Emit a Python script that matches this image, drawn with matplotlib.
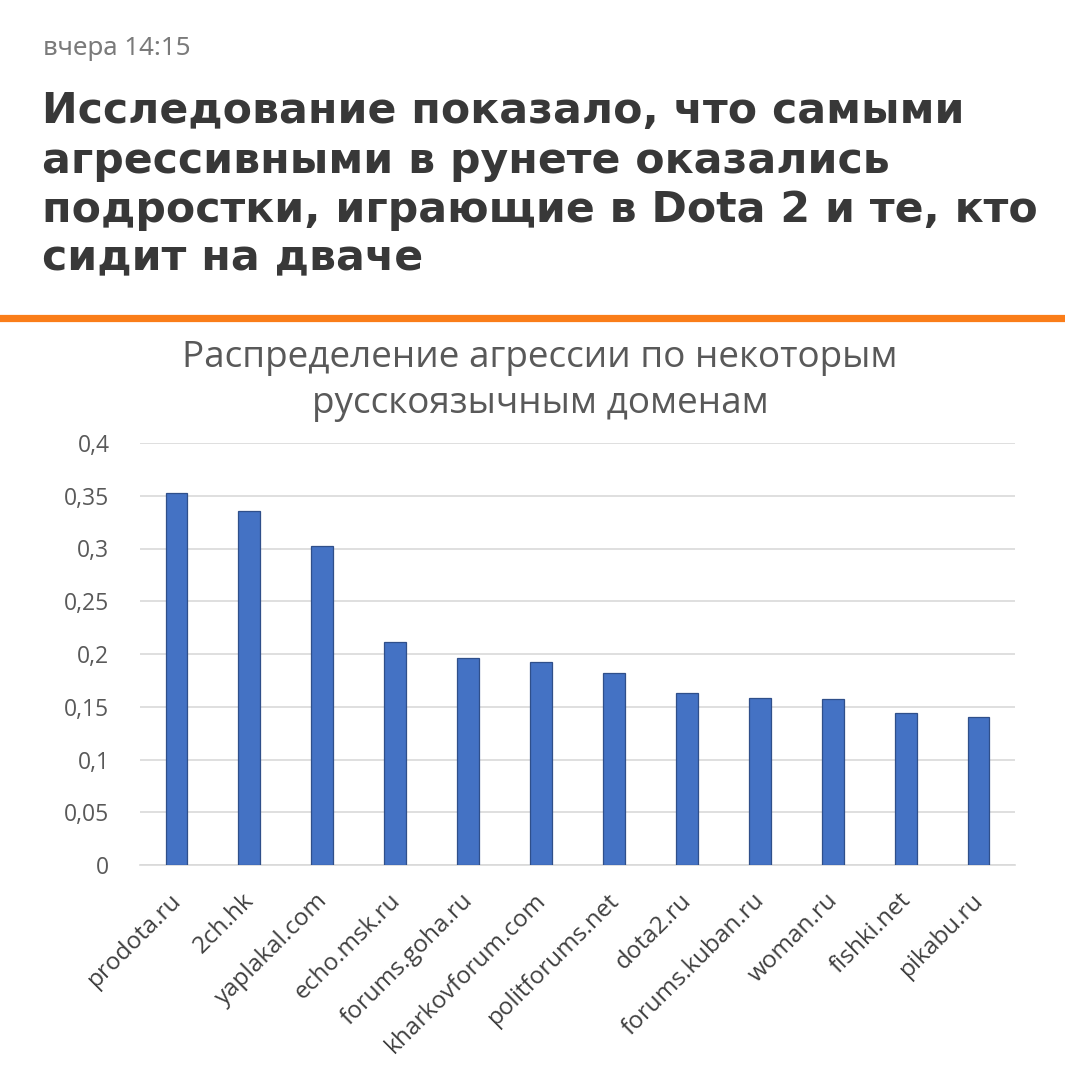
import matplotlib
matplotlib.use("Agg")
import matplotlib.pyplot as plt
from matplotlib.ticker import FixedLocator, FixedFormatter
from matplotlib.transforms import ScaledTranslation

# ---- data ----
domains = ["prodota.ru", "2ch.hk", "yaplakal.com", "echo.msk.ru", "forums.goha.ru",
           "kharkovforum.com", "politforums.net", "dota2.ru", "forums.kuban.ru",
           "woman.ru", "fishki.net", "pikabu.ru"]
aggression = [0.353, 0.3355, 0.302, 0.211, 0.196, 0.192, 0.182, 0.163, 0.1586, 0.157, 0.1444, 0.140]
y_ticks = [0, 0.05, 0.1, 0.15, 0.2, 0.25, 0.3, 0.35, 0.4]
y_tick_labels = ["0", "0,05", "0,1", "0,15", "0,2", "0,25", "0,3", "0,35", "0,4"]

date_text = "вчера 14:15"
headline = ["Исследование показало, что самыми",
            "агрессивными в рунете оказались",
            "подростки, играющие в Dota 2 и те, кто",
            "сидит на дваче"]
chart_title = ["Распределение агрессии по некоторым", "русскоязычным доменам"]

W, H = 1065, 1067
fig = plt.figure(figsize=(W / 100, H / 100), dpi=100)
fig.patch.set_facecolor("white")
renderer = fig.canvas.get_renderer()


def px(x, y):
    return x / W, 1 - y / H


def fit_text(x, y, s, target_w, **kw):
    t = fig.text(*px(x, y), s, fontsize=10, **kw)
    w = t.get_window_extent(renderer).width
    t.set_fontsize(10 * target_w / w)
    return t


def fit_size(s, target_w, **kw):
    t = fig.text(0, 0, s, fontsize=10, **kw)
    w = t.get_window_extent(renderer).width
    t.remove()
    return 10 * target_w / w


# ---- header ----
fit_text(43, 55, date_text, 147, color="#7a7a7a", va="baseline", ha="left",
         family=["Noto Sans", "DejaVu Sans"])

hfam = ["DejaVu Sans"]
hsize = fit_size(headline[2], 995, family=hfam, fontweight="bold")
for s, yb in zip(headline, [123.3, 172.5, 221.7, 270.5]):
    fig.text(*px(42, yb), s, fontsize=hsize, fontweight="bold", family=hfam,
             color="#383838", va="baseline", ha="left")

# orange rule
fig.add_artist(plt.Line2D([0, 1], [1 - 318 / H, 1 - 318 / H], color="#FA7D19",
                          linewidth=5.2, transform=fig.transFigure))

# ---- chart title ----
tfam = ["Open Sans", "DejaVu Sans"]
tsize = fit_size(chart_title[0], 714, family=tfam)
for s, yb in zip(chart_title, [366.7, 413.3]):
    fig.text(*px(540, yb), s, fontsize=tsize, family=tfam, color="#595959",
             va="baseline", ha="center")

# ---- axes ----
left, right, bottom, top = 140, 1015, 865, 443
ax = fig.add_axes([left / W, 1 - bottom / H, (right - left) / W, (bottom - top) / H])
ax.set_facecolor("white")
xs = list(range(len(domains)))
ax.bar(xs, aggression, width=0.3, color="#4472C4", edgecolor="#2F4F8A",
       linewidth=0.9, zorder=3)
ax.set_xlim(-0.5, len(domains) - 0.5)
ax.set_ylim(0, 0.4)
ax.yaxis.set_major_locator(FixedLocator(y_ticks))
ax.yaxis.set_major_formatter(FixedFormatter(y_tick_labels))
ax.grid(axis="y", color="#d9d9d9", linewidth=1.2, zorder=0)
for sp in ["top", "right", "left"]:
    ax.spines[sp].set_visible(False)
ax.spines["bottom"].set_color("#d9d9d9")
ax.spines["bottom"].set_linewidth(1.2)
ax.tick_params(axis="y", length=0, pad=22, labelsize=16.5, labelcolor="#595959")
for lab in ax.get_yticklabels():
    lab.set_family(tfam)
ax.set_xticks(xs)
ax.set_xticklabels(domains, rotation=45, ha="right", rotation_mode="anchor",
                   fontsize=17.5, color="#404040", family=tfam)
ax.tick_params(axis="x", length=0, pad=17)
off = ScaledTranslation(-7 / 100, 0, fig.dpi_scale_trans)
for lab in ax.get_xticklabels():
    lab.set_transform(lab.get_transform() + off)

fig.savefig("out.png", dpi=100, facecolor="white")
